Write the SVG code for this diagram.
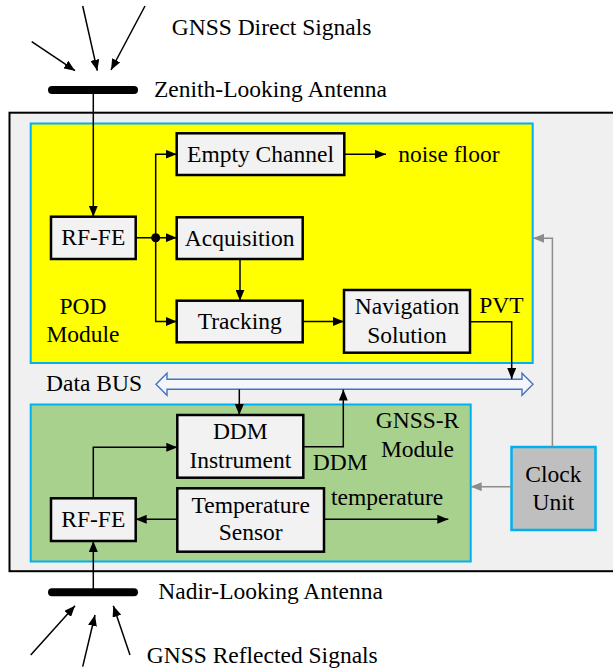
<svg xmlns="http://www.w3.org/2000/svg" width="613" height="668" viewBox="0 0 613 668" font-family="Liberation Serif, DejaVu Serif, serif" font-size="23.5">
<defs>
<style>
text{font-family:'Liberation Serif','DejaVu Serif',serif;font-size:23.5px;fill:#000}
.c{text-anchor:middle}
.box{fill:#f2f2f2;stroke:#000;stroke-width:2.5}
.ln{fill:none;stroke:#000;stroke-width:1.5}
.gl{fill:none;stroke:#8c8c8c;stroke-width:1.5}
.ant{stroke:#000;stroke-width:8;stroke-linecap:round}
</style>
<marker id="ah" markerUnits="userSpaceOnUse" markerWidth="11" markerHeight="9" refX="11" refY="4.5" orient="auto"><path d="M0,0 L11,4.5 L0,9 z" fill="#000"/></marker>
<marker id="gh" markerUnits="userSpaceOnUse" markerWidth="11" markerHeight="9" refX="11" refY="4.5" orient="auto"><path d="M0,0 L11,4.5 L0,9 z" fill="#8c8c8c"/></marker>
</defs>
<rect width="613" height="668" fill="#fff"/>
<g id="outer"><rect x="9.5" y="112.7" width="620" height="458.5" fill="#f0f0f0" stroke="#000" stroke-width="2"/></g>
<g id="pod-module"><rect x="30.7" y="123.5" width="502" height="239.5" fill="#ffff00" stroke="#00b0f0" stroke-width="2"/>
<text class="c" x="83" y="314.3">POD</text><text class="c" x="83" y="341.7">Module</text></g>
<g id="gnssr-module"><rect x="30.7" y="404.5" width="440" height="157" fill="#a9d18e" stroke="#00b0f0" stroke-width="2"/>
<text class="c" x="417.5" y="427.7">GNSS-R</text><text class="c" x="417.5" y="456.7">Module</text></g>
<g id="zenith-antenna"><line class="ant" x1="52" y1="90" x2="134" y2="90"/><text x="154" y="96.7">Zenith-Looking Antenna</text></g>
<g id="direct-signals"><text x="171.7" y="35">GNSS Direct Signals</text></g>
<g id="nadir-antenna"><line class="ant" x1="52" y1="592.3" x2="134" y2="592.3"/><text x="158.3" y="599.3">Nadir-Looking Antenna</text></g>
<g id="reflected-signals"><text x="146.7" y="662.7">GNSS Reflected Signals</text></g>
<g id="rffe-pod"><rect class="box" x="51" y="216.7" width="84.7" height="42.3"/><text class="c" x="93.3" y="245.3">RF-FE</text></g>
<g id="empty-channel"><rect class="box" x="176.7" y="133.3" width="167.6" height="41.7"/><text class="c" x="260.5" y="161.7">Empty Channel</text></g>
<g id="noise-floor"><text x="398.3" y="161.7">noise floor</text></g>
<g id="acquisition"><rect class="box" x="176.7" y="217.3" width="126" height="41.7"/><text class="c" x="239.7" y="245.5">Acquisition</text></g>
<g id="tracking"><rect class="box" x="176.7" y="300.7" width="126" height="41.6"/><text class="c" x="239.7" y="328.5">Tracking</text></g>
<g id="navigation"><rect class="box" x="344" y="290" width="126" height="62.7"/><text class="c" x="407" y="314.3">Navigation</text><text class="c" x="407" y="342.7">Solution</text></g>
<g id="pvt"><text x="479.3" y="312.7">PVT</text></g>
<g id="data-bus"><path d="M156,384.3 L167,373.3 L167,379.3 L522,379.3 L522,373.3 L533,384.3 L522,395.3 L522,389.3 L167,389.3 L167,395.3 Z" fill="#f4f6fb" stroke="#4472c4" stroke-width="1.4"/><text x="46" y="391">Data BUS</text></g>
<g id="ddm-instrument"><rect class="box" x="177.3" y="415" width="126" height="62.7"/><text class="c" x="240.3" y="439.3">DDM</text><text class="c" x="240.3" y="467.7">Instrument</text></g>
<g id="ddm-label"><text x="312.7" y="470">DDM</text></g>
<g id="temperature-sensor"><rect class="box" x="177.3" y="488.3" width="146.7" height="63.4"/><text class="c" x="250.7" y="512.7">Temperature</text><text class="c" x="250.7" y="540">Sensor</text></g>
<g id="temperature-label"><text x="331" y="505">temperature</text></g>
<g id="rffe-gnssr"><rect class="box" x="51" y="498.3" width="84.7" height="42.7"/><text class="c" x="93.3" y="527.3">RF-FE</text></g>
<g id="clock-unit"><rect x="511.5" y="447" width="84" height="83" fill="#bfbfbf" stroke="#00b0f0" stroke-width="2.5"/><text class="c" x="553.4" y="481.7">Clock</text><text class="c" x="553.4" y="510">Unit</text></g>
<g id="connectors">
<line class="ln" x1="31.7" y1="41.7" x2="75" y2="70.7" marker-end="url(#ah)"/>
<line class="ln" x1="82.7" y1="6" x2="97.3" y2="70.7" marker-end="url(#ah)"/>
<line class="ln" x1="145" y1="6" x2="111" y2="70" marker-end="url(#ah)"/>
<line class="ln" x1="30.7" y1="655" x2="75" y2="605.7" marker-end="url(#ah)"/>
<line class="ln" x1="82.7" y1="666.7" x2="95" y2="615" marker-end="url(#ah)"/>
<line class="ln" x1="130" y1="655" x2="113.3" y2="605.7" marker-end="url(#ah)"/>
<line class="ln" x1="93.3" y1="90" x2="93.3" y2="216.7" marker-end="url(#ah)"/>
<line class="ln" x1="135.7" y1="237.7" x2="176.7" y2="237.7" marker-end="url(#ah)"/>
<circle cx="155.7" cy="237.7" r="4.5" fill="#000"/>
<polyline class="ln" points="155.7,237.7 155.7,154.2 176.7,154.2" marker-end="url(#ah)"/>
<polyline class="ln" points="155.7,237.7 155.7,321.5 176.7,321.5" marker-end="url(#ah)"/>
<line class="ln" x1="344.3" y1="154.3" x2="386" y2="154.3" marker-end="url(#ah)"/>
<line class="ln" x1="240" y1="259" x2="240" y2="300.7" marker-end="url(#ah)"/>
<line class="ln" x1="302.7" y1="321.5" x2="344" y2="321.5" marker-end="url(#ah)"/>
<polyline class="ln" points="470,321.7 511.7,321.7 511.7,379" marker-end="url(#ah)"/>
<line class="ln" x1="239.3" y1="389.5" x2="239.3" y2="415" marker-end="url(#ah)"/>
<polyline class="ln" points="303.3,446.7 343.3,446.7 343.3,389.5" marker-end="url(#ah)"/>
<polyline class="ln" points="93.3,498.3 93.3,447.3 177.3,447.3" marker-end="url(#ah)"/>
<line class="ln" x1="177.3" y1="519.3" x2="135.7" y2="519.3" marker-end="url(#ah)"/>
<line class="ln" x1="324" y1="519.3" x2="448.3" y2="519.3" marker-end="url(#ah)"/>
<line class="ln" x1="93.3" y1="592.3" x2="93.3" y2="541" marker-end="url(#ah)"/>
<line class="gl" x1="511.5" y1="486.7" x2="470.7" y2="486.7" marker-end="url(#gh)"/>
<polyline class="gl" points="552.4,447 552.4,238.3 533,238.3" marker-end="url(#gh)"/>
</g>
</svg>
